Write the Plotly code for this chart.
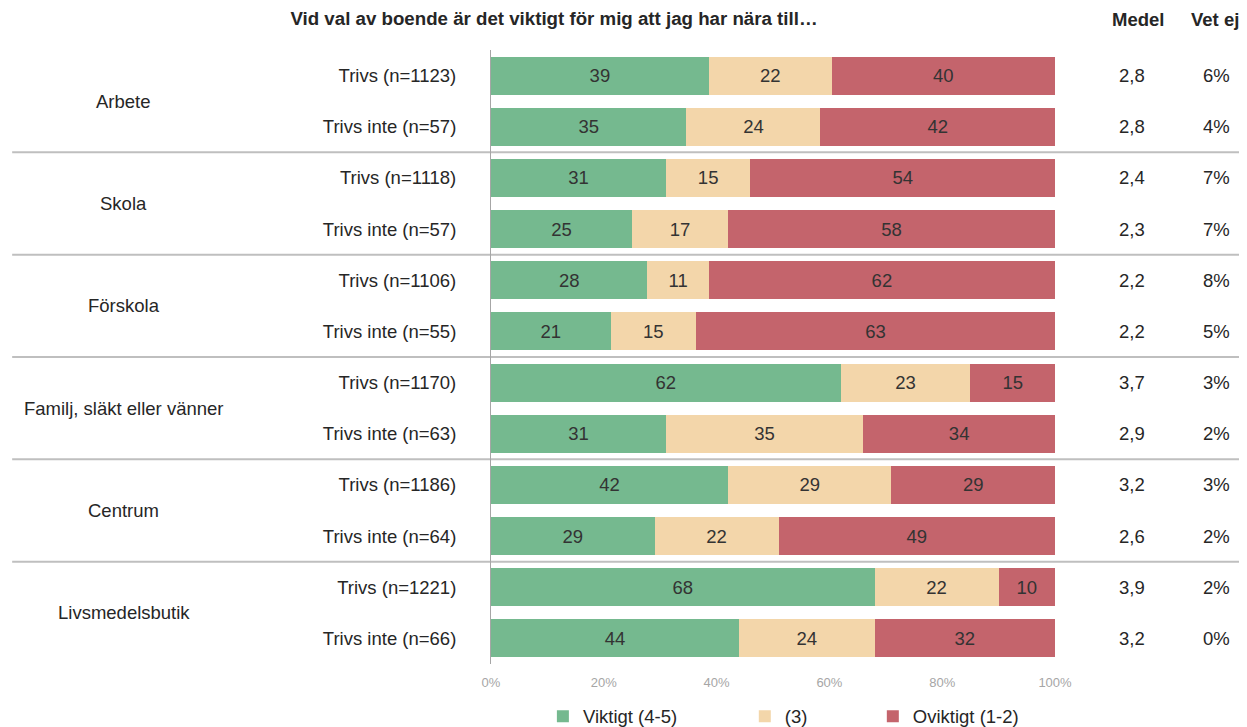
import plotly.graph_objects as go

# data
groups = ["Arbete", "Skola", "Förskola", "Familj, släkt eller vänner", "Centrum", "Livsmedelsbutik"]
row_labels = [
    "Trivs (n=1123)", "Trivs inte (n=57)",
    "Trivs (n=1118)", "Trivs inte (n=57)",
    "Trivs (n=1106)", "Trivs inte (n=55)",
    "Trivs (n=1170)", "Trivs inte (n=63)",
    "Trivs (n=1186)", "Trivs inte (n=64)",
    "Trivs (n=1221)", "Trivs inte (n=66)",
]
viktigt = [39, 35, 31, 25, 28, 21, 62, 31, 42, 29, 68, 44]
mitten = [22, 24, 15, 17, 11, 15, 23, 35, 29, 22, 22, 24]
oviktigt = [40, 42, 54, 58, 62, 63, 15, 34, 29, 49, 10, 32]
medel = [2.8, 2.8, 2.4, 2.3, 2.2, 2.2, 3.7, 2.9, 3.2, 2.6, 3.9, 3.2]
vet_ej = [6, 4, 7, 7, 8, 5, 3, 2, 3, 2, 2, 0]

series = [
    ("Viktigt (4-5)", viktigt, "rgb(117,185,143)", "legend2"),
    ("(3)", mitten, "rgb(243,214,170)", "legend3"),
    ("Oviktigt (1-2)", oviktigt, "rgb(196,100,108)", "legend4"),
]

FONT = "Liberation Sans, Arial, sans-serif"
FS = 18.5
TXT = "#262626"
rows = list(range(len(row_labels)))

fig = go.Figure()
for name, vals, color, leg in series:
    fig.add_trace(go.Bar(
        y=rows, x=vals, orientation="h", name=name,
        marker=dict(color=color, line=dict(width=0)),
        text=[str(v) for v in vals], textposition="inside",
        insidetextanchor="middle", constraintext="none",
        textfont=dict(color="#333333", size=FS, family=FONT),
        width=0.74, legend=leg, showlegend=True,
    ))

annotations = []
# group labels
for i, g in enumerate(groups):
    annotations.append(dict(x=-0.651, y=2 * i + 0.5, xref="paper", yref="y",
                            text=g, showarrow=False, xanchor="center",
                            font=dict(size=FS, color=TXT)))
# Medel / Vet ej columns
for i in rows:
    annotations.append(dict(x=1.1365, y=i, xref="paper", yref="y",
                            text=f"{medel[i]:.1f}".replace(".", ","), showarrow=False,
                            xanchor="center", font=dict(size=FS, color=TXT)))
    annotations.append(dict(x=1.2855, y=i, xref="paper", yref="y",
                            text=f"{vet_ej[i]}%", showarrow=False,
                            xanchor="center", font=dict(size=FS, color=TXT)))
for txt, xp in [("<b>Medel</b>", 1.147), ("<b>Vet ej</b>", 1.284)]:
    annotations.append(dict(x=xp, y=1.05, xref="paper", yref="paper", text=txt,
                            showarrow=False, xanchor="center", yanchor="middle",
                            borderpad=0, font=dict(size=FS, color=TXT)))

# separators between groups
shapes = []
for k in range(1, len(groups)):
    yy = 2 * k - 0.5
    shapes.append(dict(type="line", xref="paper", yref="y", x0=-0.849, x1=1.337,
                       y0=yy, y1=yy, line=dict(color="#BFBFBF", width=2), layer="below"))

legend_style = dict(orientation="h", yref="paper", y=-0.0857, yanchor="middle",
                    xanchor="left", bgcolor="rgba(0,0,0,0)",
                    font=dict(size=FS, color=TXT, family=FONT), itemwidth=30)

# page body has an 8px margin, so the figure is 8px smaller each way
fig.update_layout(
    width=1239, height=719,
    margin=dict(l=483, r=192, t=42, b=63, autoexpand=False),
    barmode="stack", barnorm="percent",
    plot_bgcolor="white", paper_bgcolor="white",
    font=dict(family=FONT, size=FS, color=TXT),
    title=dict(text="<b>Vid val av boende är det viktigt för mig att jag har nära till…</b>",
               x=0.4407, xanchor="center", y=0.9855, yanchor="middle",
               font=dict(size=18.7, color=TXT)),
    xaxis=dict(range=[0, 100], tickvals=[0, 20, 40, 60, 80, 100],
               ticktext=["0%", "20%", "40%", "60%", "80%", "100%"],
               showgrid=False, zeroline=False, showline=False, ticks="",
               ticklabelstandoff=9,
               tickfont=dict(size=13, color="#A6A6A6"), fixedrange=True),
    yaxis=dict(range=[11.5, -0.5], tickvals=rows, ticktext=row_labels,
               showgrid=False, zeroline=False, showline=True, linecolor="#A6A6A6",
               linewidth=1, ticks="", ticklabelstandoff=30,
               tickfont=dict(size=FS, color=TXT)),
    showlegend=True,
    legend2=dict(x=0.092, **legend_style),
    legend3=dict(x=0.450, **legend_style),
    legend4=dict(x=0.677, **legend_style),
    annotations=annotations,
    shapes=shapes,
)

fig.write_html("out.html")
